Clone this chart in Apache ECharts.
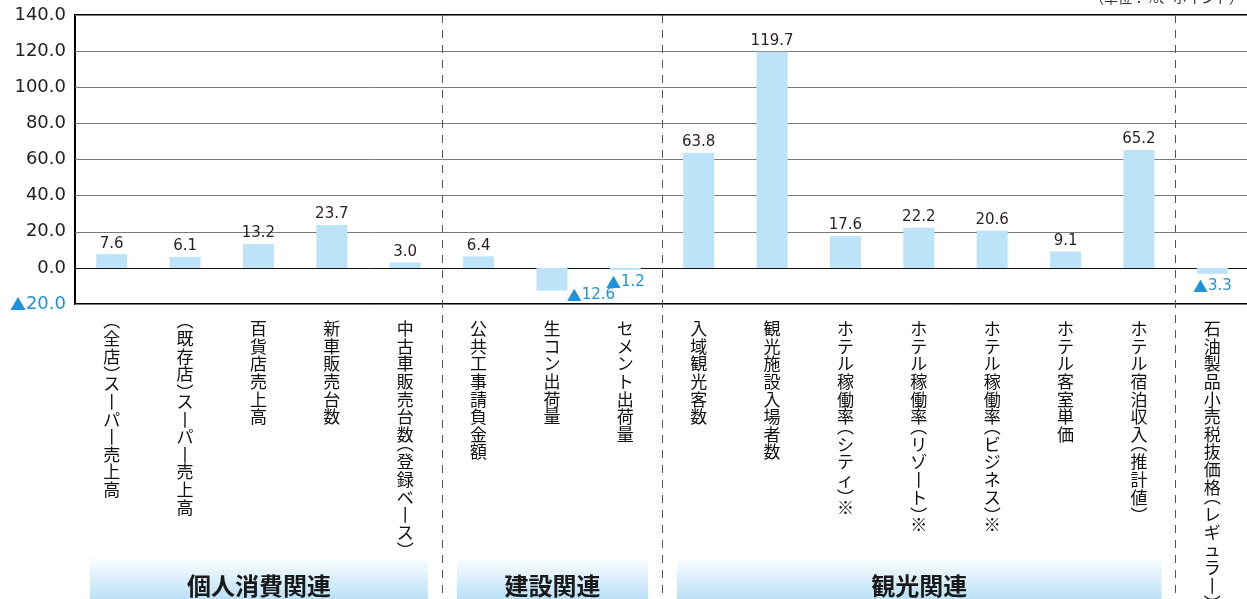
<!DOCTYPE html>
<html>
<head>
<meta charset="utf-8">
<script src="https://cdn.jsdelivr.net/npm/echarts@6/dist/echarts.min.js"></script>
<style>
  html, body { margin: 0; padding: 0; background: #fff; }
  #chart { width: 1247px; height: 599px; }
</style>
</head>
<body>
<div id="chart"></div>
<script>
const categories = [
  "（全店）スーパー売上高",
  "（既存店）スーパー売上高",
  "百貨店売上高",
  "新車販売台数",
  "中古車販売台数（登録ベース）",
  "公共工事請負金額",
  "生コン出荷量",
  "セメント出荷量",
  "入域観光客数",
  "観光施設入場者数",
  "ホテル稼働率（シティ）※",
  "ホテル稼働率（リゾート）※",
  "ホテル稼働率（ビジネス）※",
  "ホテル客室単価",
  "ホテル宿泊収入（推計値）",
  "石油製品小売税抜価格（レギュラー）"
];
const values = [7.6, 6.1, 13.2, 23.7, 3.0, 6.4, -12.6, -1.2, 63.8, 119.7, 17.6, 22.2, 20.6, 9.1, 65.2, -3.3];
const groupNames = ["個人消費関連", "建設関連", "観光関連"];
const groupRanges = [[0, 4], [5, 7], [8, 14]];
const yTicks = [-20, 0, 20, 40, 60, 80, 100, 120, 140];
const unitText = "（単位：%、ポイント）";

const BLUE = "#1e93dc";
const JP = "'Noto Sans CJK JP', 'Noto Sans', sans-serif";
const NUM = "'DejaVu Sans', 'Noto Sans', sans-serif";

// vertical writing: one char per line, brackets as compact vertical forms
function toVertical(s) {
  return s.split("").map(c => {
    if (c === "（") return "{bo|︵}";
    if (c === "）") return "{bc|︶}";
    if (c === "ー") return "{c|丨}";
    return "{c|" + c + "}";
  }).join("\n");
}

// ▲ marks a negative value
function numRich(v, key) {
  return v < 0
    ? "{tri|▲}{" + key + "|" + Math.abs(v).toFixed(1) + "}"
    : "{" + key + "|" + v.toFixed(1) + "}";
}

const chart = echarts.init(document.getElementById("chart"));

chart.setOption({
  animation: false,
  grid: [
    {
      left: 75, top: 15, width: 1174, bottom: 295,
      outerBoundsMode: "none",
      show: true, borderColor: "#000", borderWidth: 2, backgroundColor: "transparent"
    },
    { left: 75, top: 15, width: 1174, bottom: 0, outerBoundsMode: "none" }
  ],
  xAxis: [
    {
      type: "category",
      gridIndex: 0,
      data: categories,
      axisLine: { show: false },
      axisTick: { show: false },
      axisLabel: {
        interval: 0,
        margin: 16,
        formatter: toVertical,
        rich: {
          c: { fontSize: 17, lineHeight: 17.6, color: "#111", fontFamily: JP },
          bo: { fontSize: 17, lineHeight: 10, color: "#111", fontFamily: JP, padding: [0, 0, 9, 0] },
          bc: { fontSize: 17, lineHeight: 10, color: "#111", fontFamily: JP, padding: [9, 0, 0, 0] }
        }
      }
    },
    {
      type: "category",
      gridIndex: 1,
      data: categories,
      axisLine: { show: false },
      axisTick: { show: false },
      axisLabel: { show: false },
      splitLine: {
        show: true,
        interval: (i) => i === 5 || i === 8 || i === 15,
        lineStyle: { color: "#555", width: 1, type: [8, 7] }
      }
    }
  ],
  yAxis: [
    {
      type: "value",
      gridIndex: 0,
      min: yTicks[0],
      max: yTicks[yTicks.length - 1],
      interval: 20,
      axisLine: { show: false },
      axisTick: { show: false },
      axisLabel: {
        margin: 9,
        formatter: (v) => v < 0 ? numRich(v, "neg") : numRich(v, "pos"),
        rich: {
          pos: { color: "#222", fontSize: 18, fontFamily: NUM },
          neg: { color: BLUE, fontSize: 18, fontFamily: NUM },
          tri: { color: BLUE, fontSize: 16, fontFamily: JP }
        }
      },
      splitLine: {
        lineStyle: {
          color: yTicks.map(t => t === 0 ? "#111" : "#7a7a7a"),
          width: 1
        }
      }
    },
    { type: "value", gridIndex: 1, show: false, min: 0, max: 1 }
  ],
  series: [
    {
      type: "bar",
      xAxisIndex: 0,
      yAxisIndex: 0,
      barWidth: 31,
      itemStyle: { color: "#bde3f8" },
      data: values.map((v, i) => {
        const item = { value: v };
        if (v < 0) {
          item.label = {
            position: "bottom",
            distance: 5,
            offset: i === 6 ? [39, -8] : [0, 0]
          };
        }
        return item;
      }),
      label: {
        show: true,
        position: "top",
        distance: 3,
        formatter: (p) => p.value < 0 ? numRich(p.value, "neg") : numRich(p.value, "pos"),
        rich: {
          pos: { fontSize: 15, color: "#2b1d26", fontFamily: NUM },
          neg: { fontSize: 15, color: BLUE, fontFamily: NUM },
          tri: { fontSize: 15, color: BLUE, fontFamily: JP }
        }
      }
    }
  ]
});

// group bands below the category labels, placed from the category scale
function drawBands() {
  const c0 = chart.convertToPixel({ xAxisIndex: 0 }, 0);
  const c1 = chart.convertToPixel({ xAxisIndex: 0 }, 1);
  const half = (c1 - c0) / 2;
  const els = [{
    type: "text",
    right: 4,
    top: -9,
    style: { text: unitText, fontSize: 14, fill: "#333", fontFamily: JP }
  }];
  groupRanges.forEach((r, gi) => {
    const x0 = chart.convertToPixel({ xAxisIndex: 0 }, r[0]) - half + 15;
    const x1 = chart.convertToPixel({ xAxisIndex: 0 }, r[1]) + half - 14;
    els.push({
      type: "rect",
      shape: { x: x0, y: 556, width: x1 - x0, height: 44 },
      style: {
        fill: new echarts.graphic.LinearGradient(0, 0, 0, 1, [
          { offset: 0, color: "#ffffff" },
          { offset: 1, color: "#b9e0f6" }
        ])
      },
      z: 1
    });
    els.push({
      type: "text",
      x: (x0 + x1) / 2,
      y: 586,
      style: {
        text: groupNames[gi],
        fontSize: 24,
        fontWeight: "bold",
        fill: "#1a1a1a",
        fontFamily: JP,
        align: "center",
        verticalAlign: "middle"
      },
      z: 2
    });
  });
  chart.setOption({ graphic: els });
}

drawBands();
</script>
</body>
</html>
